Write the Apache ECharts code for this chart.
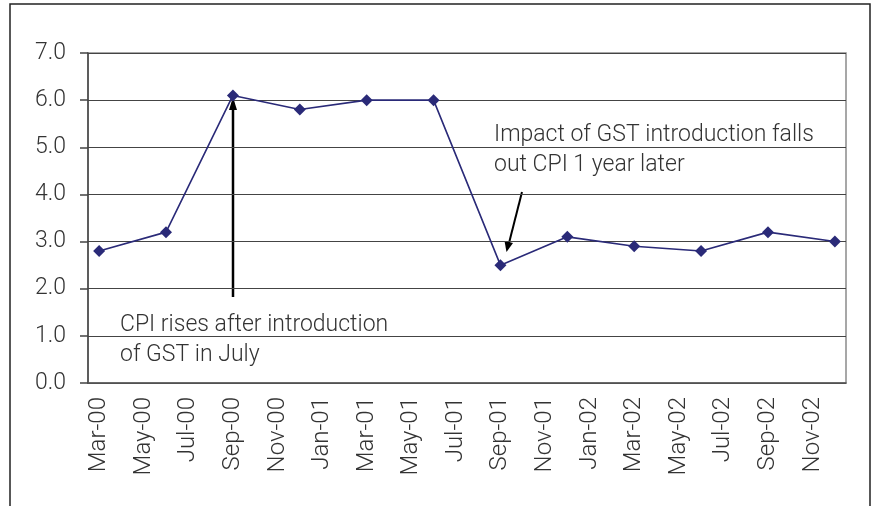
<!DOCTYPE html>
<html>
<head>
<meta charset="utf-8">
<script src="https://cdn.jsdelivr.net/npm/echarts@6/dist/echarts.min.js"></script>
<style>
  html, body { margin: 0; padding: 0; background: #fff; }
  #chart { width: 878px; height: 506px; }
</style>
</head>
<body>
<div id="chart"></div>
<script>
// monthly categories, Mar-00 .. Dec-02
var months = ['Mar-00','Apr-00','May-00','Jun-00','Jul-00','Aug-00','Sep-00','Oct-00','Nov-00','Dec-00',
  'Jan-01','Feb-01','Mar-01','Apr-01','May-01','Jun-01','Jul-01','Aug-01','Sep-01','Oct-01','Nov-01','Dec-01',
  'Jan-02','Feb-02','Mar-02','Apr-02','May-02','Jun-02','Jul-02','Aug-02','Sep-02','Oct-02','Nov-02','Dec-02'];
// quarterly CPI readings
var quarters = ['Mar-00','Jun-00','Sep-00','Dec-00','Mar-01','Jun-01','Sep-01','Dec-01','Mar-02','Jun-02','Sep-02','Dec-02'];
var cpi = [2.8, 3.2, 6.1, 5.8, 6.0, 6.0, 2.5, 3.1, 2.9, 2.8, 3.2, 3.0];
var noteRise = ['CPI rises after introduction', 'of GST in July'];
var noteFall = ['Impact of GST introduction falls', 'out CPI 1 year later'];

var font = 'Roboto';
var txt = '#333';

var seriesData = quarters.map(function (q, i) { return [q, cpi[i]]; });

var chart = echarts.init(document.getElementById('chart'));
chart.setOption({
  animation: false,
  backgroundColor: '#fff',
  grid: {
    left: 88, right: 32, top: 53, bottom: 123,
    show: true, borderColor: '#8a8a8a', borderWidth: 1.5
  },
  xAxis: {
    type: 'category',
    data: months,
    boundaryGap: true,
    axisLine: { lineStyle: { color: '#555', width: 1.5 } },
    axisTick: { interval: 1, length: 8, lineStyle: { color: '#555', width: 1.5 } },
    axisLabel: {
      interval: 1, rotate: 90, margin: 14,
      fontFamily: font, fontWeight: 300, fontSize: 24, color: txt
    },
    splitLine: { show: false }
  },
  yAxis: {
    type: 'value',
    min: 0, max: 7, interval: 1,
    axisLine: { show: true, lineStyle: { color: '#444', width: 1.5 } },
    axisTick: { show: true, length: 8, lineStyle: { color: '#444', width: 1.5 } },
    axisLabel: {
      margin: 22, fontFamily: font, fontWeight: 300, fontSize: 23, color: txt,
      formatter: function (v) { return v.toFixed(1); }
    },
    splitLine: { lineStyle: { color: '#444', width: 1.2 } }
  },
  series: [{
    type: 'line',
    data: seriesData,
    symbol: 'diamond',
    symbolSize: 12,
    lineStyle: { color: '#2a2a78', width: 1.6 },
    itemStyle: { color: '#2a2a78' }
  }],
  graphic: [
    {
      type: 'rect', silent: true,
      shape: { x: 10, y: 4, width: 860, height: 520 },
      style: { fill: null, stroke: '#222', lineWidth: 1.5 }
    },
    {
      type: 'line', silent: true,
      shape: { x1: 233, y1: 297, x2: 233, y2: 108 },
      style: { stroke: '#000', lineWidth: 2.5 }
    },
    {
      type: 'polygon', silent: true,
      shape: { points: [[233, 97], [229, 110], [237, 110]] },
      style: { fill: '#000' }
    },
    {
      type: 'line', silent: true,
      shape: { x1: 522, y1: 192, x2: 509, y2: 243 },
      style: { stroke: '#000', lineWidth: 2 }
    },
    {
      type: 'polygon', silent: true,
      shape: { points: [[506.5, 252], [504.5, 241], [513, 243]] },
      style: { fill: '#000' }
    },
    {
      type: 'text', silent: true, left: 120, top: 310,
      style: {
        text: noteRise.join('\n'), font: '300 23px ' + font,
        fill: txt, lineHeight: 30
      }
    },
    {
      type: 'text', silent: true, left: 494, top: 120,
      style: {
        text: noteFall.join('\n'), font: '300 23px ' + font,
        fill: txt, lineHeight: 30
      }
    }
  ]
});
</script>
</body>
</html>
